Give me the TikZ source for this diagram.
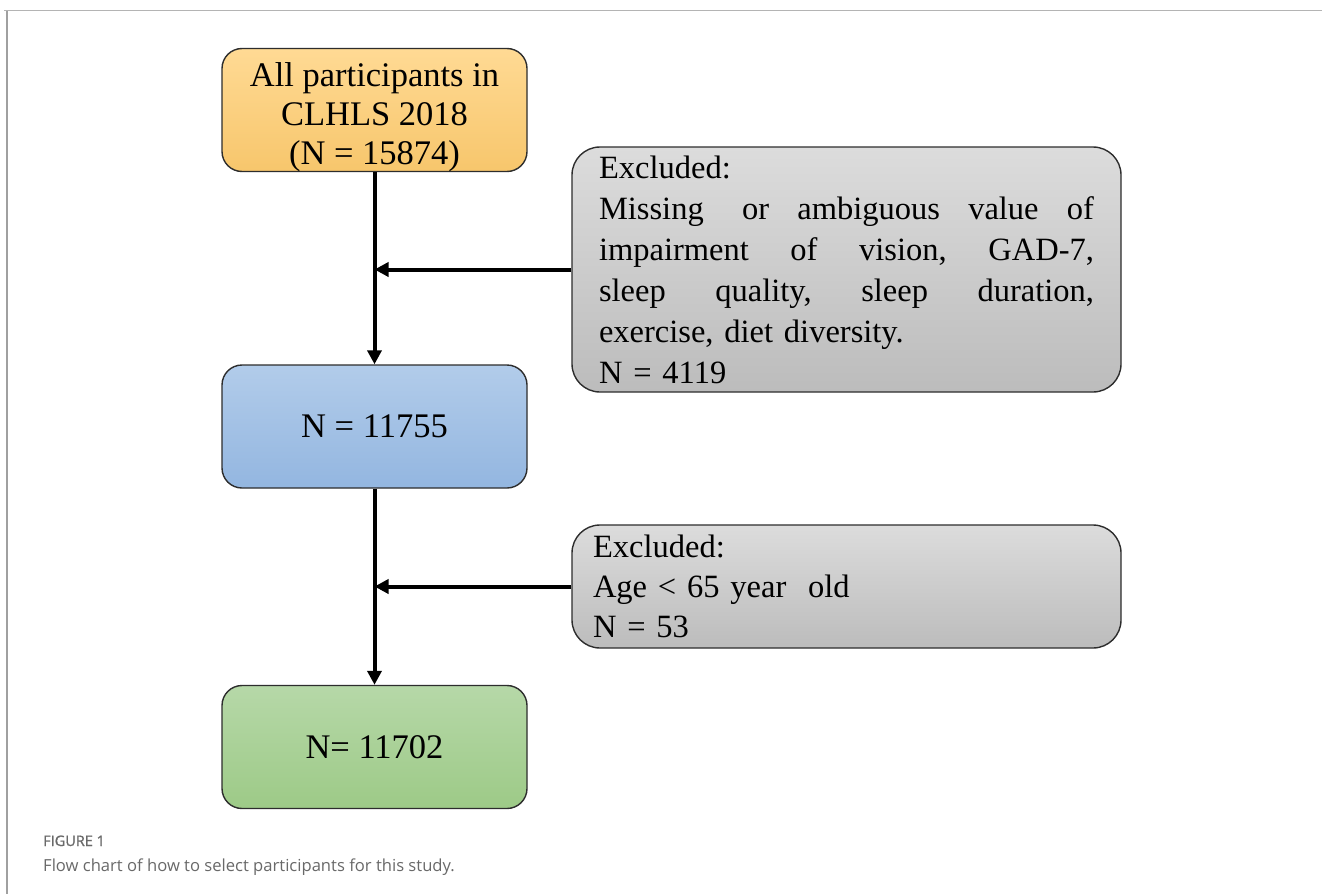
\documentclass[tikz,border=0pt]{standalone}
\usepackage{fontspec}
\setmainfont{Liberation Serif}
\newfontfamily\capfont{Open Sans}
\newfontfamily\capfontb[FakeBold=1.2]{Open Sans}
\usetikzlibrary{arrows.meta}
\definecolor{orangeT}{RGB}{255,218,148}
\definecolor{orangeB}{RGB}{247,198,108}
\definecolor{blueT}{RGB}{178,204,234}
\definecolor{blueB}{RGB}{147,182,224}
\definecolor{greenT}{RGB}{182,216,168}
\definecolor{greenB}{RGB}{157,202,135}
\definecolor{grayT}{RGB}{220,220,220}
\definecolor{grayB}{RGB}{188,188,188}
\definecolor{frameA}{RGB}{180,180,180}
\definecolor{frameB}{RGB}{160,160,160}
\definecolor{capgray}{RGB}{105,105,105}
\definecolor{edgegray}{RGB}{45,45,45}
\newcommand{\jline}[1]{\leavevmode\hbox to 495pt{#1}}
\tikzset{
  flowbox/.style={draw=edgegray, line width=1.4pt, rounded corners=20pt,
    minimum width=305pt, minimum height=123pt, align=center,
    font=\fontsize{34.5}{39}\selectfont},
  exbox/.style={draw=edgegray, line width=1.4pt, rounded corners=28pt,
    top color=grayT, bottom color=grayB, minimum width=549pt, align=left,
    font=\fontsize{32.5}{41}\selectfont},
  flowarrow/.style={line width=4pt, -{Triangle[length=14pt,width=14pt]}},
  frameline/.style={line width=1.5pt},
  captitle/.style={anchor=base west, inner sep=0pt, text=capgray, font=\capfontb\fontsize{14.5}{18}\selectfont},
  captext/.style={anchor=base west, inner sep=0pt, text=capgray, font=\capfont\fontsize{16.6}{20}\selectfont}
}
\begin{document}
\begin{tikzpicture}[x=1pt,y=-1pt]
\useasboundingbox (0,0) rectangle (1322,894);
\fill[white] (0,0) rectangle (1322,894);
% frame
\draw[frameline, draw=frameA] (4,10.5) -- (1322,10.5);
\draw[frameline, draw=frameB] (7,10.5) -- (7,894);
% boxes
\node[flowbox, top color=orangeT, bottom color=orangeB, text depth=0pt] (all) at (374.5,110)
  {\rule{0pt}{31pt}All participants in\\CLHLS 2018\\(N = 15874)};
\node[flowbox, top color=blueT, bottom color=blueB] (n1) at (374.5,426.5) {N = 11755};
\node[flowbox, top color=greenT, bottom color=greenB] (n2) at (374.5,747) {N= 11702};
\node[exbox, minimum height=245pt, text width=495pt, inner xsep=27pt] (ex1) at (846.5,269.5)
  {Excluded:\\
   \jline{Missing\hspace{10pt}\hfill or\hfill ambiguous\hfill value\hfill of}\\
   \jline{impairment\hfill of\hfill vision,\hfill GAD-7,}\\
   \jline{sleep\hfill quality,\hfill sleep\hfill duration,}\\
   exercise, diet diversity.\\
   N = 4119};
\node[exbox, minimum height=123pt, text width=507pt, inner xsep=21pt, font=\fontsize{32.5}{40}\selectfont] (ex2) at (846.5,586.5)
  {Excluded:\\Age < 65 year\ \ old\\N = 53};
% connectors
\draw[flowarrow] (all) -- (n1);
\draw[flowarrow] (ex1.west) -- (ex1.west -| all.south);
\draw[flowarrow] (n1) -- (n2);
\draw[flowarrow] (ex2.west) -- (ex2.west -| n1.south);
% caption
\node[captitle] (figlabel) at (43,846) {FIGURE 1};
\node[captext] (figcap) at (43,871) {Flow chart of how to select participants for this study.};
\end{tikzpicture}
\end{document}
